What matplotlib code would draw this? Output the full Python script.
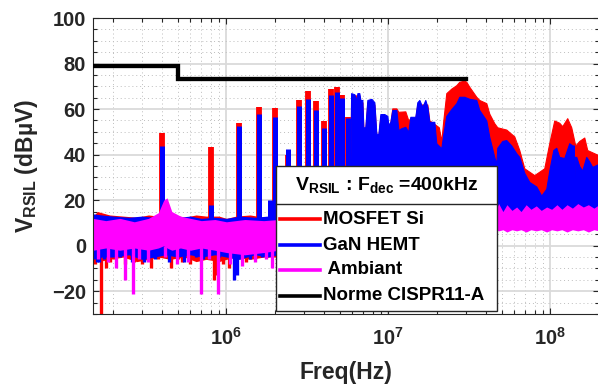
import numpy as np
import matplotlib
matplotlib.use('Agg')
import matplotlib.pyplot as plt
from matplotlib.patches import Rectangle
from matplotlib.lines import Line2D
from matplotlib.ticker import LogLocator, MultipleLocator, FixedLocator, FuncFormatter, NullFormatter

plt.rcParams['font.family'] = ['Liberation Sans', 'DejaVu Sans']
plt.rcParams['font.weight'] = 'bold'
plt.rcParams['mathtext.fontset'] = 'custom'
plt.rcParams['mathtext.rm'] = 'Liberation Sans:bold'
plt.rcParams['mathtext.it'] = 'Liberation Sans:bold'
plt.rcParams['mathtext.bf'] = 'Liberation Sans:bold'

# ---------------- data (frequencies in MHz, levels in dBuV) ----------------
harm_f = [0.4, 0.8, 1.2, 1.6, 1.86, 2.0, 2.4, 2.8, 3.2, 3.6, 4.0, 4.4, 4.8, 5.2, 5.6]
red_harm_v = [49.5, 43.5, 54, 60.7, 12, 60.5, 40, 64, 68, 63.5, 54.7, 68.6, 69.8, 66.4, 56.6]
blue_harm_v = [44, 18, 52.5, 58, 20, 56.6, 42.3, 61.3, 64.4, 59.6, 51.8, 66.2, 67.6, 64.7, 56.2]

blue_bb_f = [5.80, 5.89, 6.17, 6.35, 6.44, 6.62, 6.72, 6.91, 7.01, 7.21,
             7.42, 7.86, 8.20, 8.43, 8.68, 8.93, 9.45, 9.86, 10.0, 10.29,
             10.58, 11.21, 11.53, 12.03, 12.73, 13.29, 13.67, 14.68, 15.10, 15.54,
             16.21, 16.92, 17.41, 17.91, 19.23, 19.78, 21.24, 21.85, 22.80, 24.49,
             26.29, 27.44, 29.46, 31.62, 34.93, 36.45, 40.27, 42.02, 45.11, 46.42,
             47.08, 50.55, 53.50, 57.45, 61.68, 64.37, 69.12, 74.21, 81.95, 88.0,
             94.48, 98.59, 104.4, 108.9, 113.6, 122.0, 131.0, 136.8, 140.0, 140.7,
             141.5, 144.8, 151.0, 157.6, 166.8, 174.1, 181.7, 200.0]
blue_bb_v = [12, 67, 66.5, 64, 67, 67, 64, 64, 52, 52,
             64, 64.5, 63, 49.3, 49, 57.8, 57.8, 57, 53, 54.4,
             59.6, 59.6, 50.8, 51.6, 52.2, 50, 56.6, 56.6, 63, 64,
             61, 64, 61, 54.4, 54.4, 45, 42.8, 49, 57, 60,
             62.6, 65.4, 65.4, 64.5, 64, 59.6, 55, 47.8, 39, 36,
             43, 46, 46.4, 44, 40.6, 39, 32, 28, 26, 22,
             25, 33, 42, 43, 39, 38.5, 45, 44, 44, 16,
             39, 39, 35, 33, 39, 37, 34.6, 36]

red_bb_f = [5.80, 5.89, 6.62, 6.72, 6.91, 7.01, 7.21, 7.42, 8.20, 8.43,
            8.68, 8.93, 9.86, 10.0, 10.29, 10.58, 11.21, 11.53, 12.73, 13.29,
            13.67, 14.68, 15.10, 17.41, 17.91, 19.23, 20.5, 21.24, 21.85, 22.80,
            24.49, 26.29, 27.44, 29.46, 30.30, 31.62, 34.93, 36.45, 40.27, 42.02,
            45.11, 47.08, 53.50, 59.95, 64.37, 69.12, 79.66, 91.84, 98.59, 105.85,
            113.6, 118.6, 127.3, 134.8, 142.7, 151.0, 162.2, 169.2, 195.1, 200.0]
red_bb_v = [12, 66, 66, 63, 63, 51, 51, 63, 62, 48,
            48, 57, 55, 52, 54, 60.3, 60.3, 58.8, 59, 55,
            56, 56, 62, 62, 55, 53.5, 52, 46, 55, 67,
            69, 70.5, 72, 72.5, 72, 69.8, 65.4, 64, 62.6, 58,
            53.8, 52, 51, 48, 42, 34, 31, 34, 45, 55,
            54, 52.5, 56, 52, 44, 46, 47.5, 42, 40, 40]

red_floor_f = [0.15, 0.16, 0.19, 0.23, 0.28, 0.33, 0.38, 0.45, 0.55, 0.65,
               0.75, 0.9, 1.0, 1.15, 1.4, 1.7, 2.1, 3.0, 5.8]
red_floor_hi = [13, 15, 13.5, 13, 12.5, 13.5, 13, 14, 12.5, 13.5,
                13, 13, 12, 13, 13.5, 12.5, 12, 12, 12]
red_floor_lo = [-5, -7, -6, -5, -7, -6, -5, -6, -5, -7,
                -6, -7, -6, -5, -6, -5, -5, 8, 8]

blue_floor_f = [0.15, 0.17, 0.2, 0.25, 0.3, 0.36, 0.42, 0.5, 0.6, 0.7,
                0.85, 1.0, 1.2, 1.5, 1.8, 2.1, 3.0, 5.8]
blue_floor_hi = [14, 13.5, 13, 12.5, 13, 12.5, 13.5, 12.5, 13, 12,
                 12.5, 12, 13, 12.5, 13, 12, 12, 12]
blue_floor_lo = [-6, -5, -5, -4, -6, -5, -4, -5, -4, -5,
                 -4, -5, -6, -4, -5, -4, 8, 8]

mag_f = [0.15, 0.18, 0.22, 0.27, 0.33, 0.38, 0.41, 0.43, 0.46, 0.52,
         0.6, 0.7, 0.85, 1.0, 1.3, 1.7, 2.1, 5.0, 20, 46,
         48, 51, 54, 58, 62, 66, 71, 76, 82, 88,
         95, 102, 110, 118, 127, 137, 148, 160, 172, 186, 200]
mag_hi = [12, 11, 12, 10.5, 12, 14.5, 20, 21, 15, 13,
          12, 11, 11.5, 10.5, 11.5, 11, 11.5, 13, 15, 15.5,
          18.5, 15, 18, 15.5, 17, 15, 18, 16, 17.5, 15.5,
          17, 16, 18, 16, 18, 16.5, 18.5, 17, 18, 16.5, 18]
mag_lo = [-2, -1, -2, -1, -2, -1, 0, -1, -2, -1,
          -2, -1, -2, -3, -4, -3, -2, 3, 6, 7,
          6.5, 7, 6, 7, 6.5, 7, 6, 7, 6.5, 7,
          6, 7, 6.5, 7, 6, 7, 6.5, 7, 6, 7, 6.5]

red_dip_f = [0.155, 0.168, 0.181, 0.19, 0.205, 0.235, 0.27, 0.3, 0.343, 0.38,
             0.456, 0.5, 0.535, 0.6, 0.75, 0.84, 0.87, 0.95, 1.04, 1.2,
             1.32, 1.5, 1.75]
red_dip_v = [-8, -32, -10, -7, -6, -8, -7, -8, -10, -6,
             -10, -6, -7, -8, -6, -15, -13, -8, -10, -6,
             -7, -6, -5]
blue_dip_f = [0.158, 0.164, 0.175, 0.22, 0.26, 0.31, 0.36, 0.445, 0.55, 0.65,
              0.72, 0.9, 1.12, 1.16, 1.4, 1.65]
blue_dip_v = [-7, -7, -6, -5, -7, -7, -6, -7, -7, -5,
              -6, -5, -15, -13, -6, -5]
mag_dip_f = [0.16, 0.185, 0.208, 0.238, 0.264, 0.29, 0.33, 0.42, 0.498, 0.58,
             0.698, 0.78, 0.884, 1.05, 1.25, 1.5, 1.75, 1.92]
mag_dip_v = [-6, -7, -10, -15, -21, -6, -7, -5, -8, -7,
             -21, -6, -21, -8, -9, -7, -6, -10]

lim_f = [0.15, 0.5, 0.5, 30]
lim_v = [79, 79, 73, 73]

legend_labels = ['MOSFET Si', 'GaN HEMT', ' Ambiant', 'Norme CISPR11-A']
legend_title = r'V$_{\rm RSIL}$ : F$_{\rm dec}$ =400kHz'

RED, BLUE, MAG, BLK = '#ff0000', '#0000ff', '#ff00ff', '#000000'
DARK = '#262626'

# ---------------- figure ----------------
W, H = 598, 387
fig = plt.figure(figsize=(W / 100, H / 100), dpi=100)
ax = fig.add_axes([93 / W, 1 - 314 / H, 506 / W, 296 / H])

M = 1e6
def mhz(a):
    return np.asarray(a, dtype=float) * M

DIP_LW = 2.4

def draw_series(color, floor_f, floor_lo, floor_hi, dip_f, dip_v, hf=None, hv=None, bf=None, bv=None, bar_lw=3.8):
    ax.fill_between(mhz(floor_f), floor_lo, floor_hi, color=color, lw=0, zorder=2)
    ax.vlines(mhz(dip_f), dip_v, 0, color=color, lw=DIP_LW, zorder=2)
    if hf is not None:
        ax.vlines(mhz(hf), 10, hv, color=color, lw=bar_lw, zorder=2)
    if bf is not None:
        ax.fill_between(mhz(bf), 10, bv, color=color, lw=0.8, edgecolor=color, zorder=2)

draw_series(RED, red_floor_f, red_floor_lo, red_floor_hi, red_dip_f, red_dip_v,
            harm_f, red_harm_v, red_bb_f, red_bb_v, bar_lw=4.2)
draw_series(BLUE, blue_floor_f, blue_floor_lo, blue_floor_hi, blue_dip_f, blue_dip_v,
            harm_f, blue_harm_v, blue_bb_f, blue_bb_v, bar_lw=3.6)
draw_series(MAG, mag_f, mag_lo, mag_hi, mag_dip_f, mag_dip_v)
ax.plot(mhz(lim_f), lim_v, color=BLK, lw=3.1, zorder=3, solid_joinstyle='miter')

ax.set_xscale('log')
ax.set_xlim(1.5e5, 2e8)
ax.set_ylim(-30, 100)
ax.xaxis.set_major_locator(FixedLocator([1e6, 1e7, 1e8]))
ax.xaxis.set_minor_locator(LogLocator(base=10, subs=np.arange(2, 10), numticks=20))
ax.xaxis.set_major_formatter(FuncFormatter(lambda v, p: r'$10^{%d}$' % int(round(np.log10(v)))))
ax.xaxis.set_minor_formatter(NullFormatter())
ax.yaxis.set_major_locator(FixedLocator([-20, 0, 20, 40, 60, 80, 100]))
ax.yaxis.set_minor_locator(MultipleLocator(5))

ax.set_axisbelow(True)
ax.grid(True, which='major', color='#dadada', lw=1.3, ls='-')
ax.grid(True, which='minor', color='#bdbdbd', lw=0.7, ls=(0, (1, 3)))

ax.tick_params(which='both', direction='in', top=True, right=True, colors=DARK, width=0.8)
ax.tick_params(which='major', length=4)
ax.tick_params(which='minor', length=3)
ax.tick_params(axis='x', which='major', labelsize=14.5, pad=9)
ax.tick_params(axis='y', which='major', labelsize=14.5, pad=5)
for lab in ax.get_xticklabels() + ax.get_yticklabels():
    lab.set_fontweight('bold')
for s in ax.spines.values():
    s.set_color(DARK)
    s.set_linewidth(0.8)

ax.set_xlabel('Freq(Hz)', fontsize=16.5, fontweight='bold', color=DARK)
ax.xaxis.set_label_coords(0.5, -0.16)
ax.set_ylabel(r'V$_{\rm RSIL}$ (dBµV)', fontsize=16.5, fontweight='bold', color=DARK)
ax.yaxis.set_label_coords(-0.105, 0.5)

# ---------------- legend box ----------------
def fx(px):
    return px / W
def fy(py):
    return 1 - py / H

lx0, lx1, ly0, ly1, lsep = 276, 497, 166, 311, 204
fig.add_artist(Rectangle((fx(lx0), fy(ly1)), fx(lx1) - fx(lx0), fy(ly0) - fy(ly1),
                         transform=fig.transFigure, facecolor='white', edgecolor=DARK, lw=1.0, zorder=5))
fig.add_artist(Line2D([fx(lx0), fx(lx1)], [fy(lsep), fy(lsep)], transform=fig.transFigure,
                      color=DARK, lw=1.0, zorder=6))
fig.text(fx((lx0 + lx1) / 2), fy(185), legend_title, ha='center', va='center',
         fontsize=14, fontweight='bold', color='black', zorder=7)
entry_y = [219, 245, 270, 296]
for c, lab, yy in zip([RED, BLUE, MAG, BLK], legend_labels, entry_y):
    fig.add_artist(Line2D([fx(280), fx(320)], [fy(yy), fy(yy)], transform=fig.transFigure,
                          color=c, lw=2.6, zorder=7))
    fig.text(fx(323), fy(yy), lab, ha='left', va='center', fontsize=13.5,
             fontweight='bold', color='black', zorder=7)

fig.savefig('out.png', dpi=100)
